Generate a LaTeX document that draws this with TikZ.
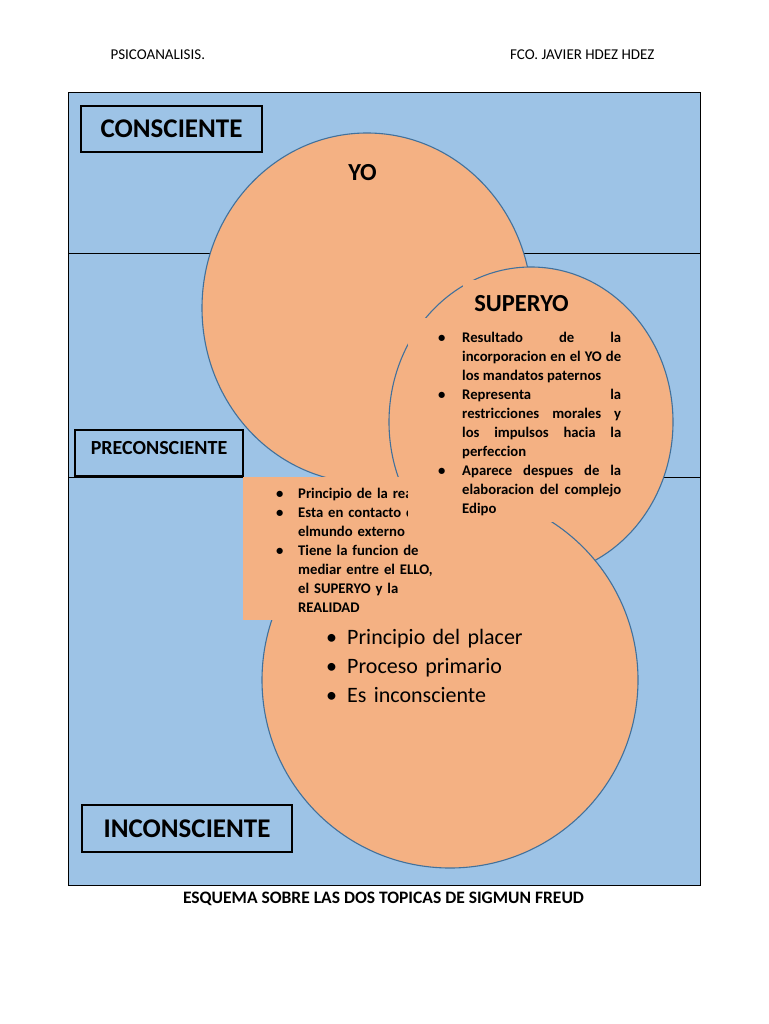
\documentclass[tikz,border=0pt]{standalone}
\usepackage{fontspec}
\setmainfont{Carlito}
\usetikzlibrary{shapes.geometric}

\definecolor{zoneblue}{HTML}{9DC3E6}
\definecolor{psyorange}{HTML}{F4B183}
\definecolor{rimblue}{HTML}{41719C}

\newcommand{\fsz}[2]{\fontsize{#1}{#2}\selectfont}
\newcommand{\bul}{\par\noindent\hspace*{-\leftskip}\makebox[\leftskip][l]{\textbullet}\strut\ignorespaces}

\begin{document}
\begin{tikzpicture}[x=1pt, y=-1pt,
  tag/.style={draw=black, line width=1.1, fill=zoneblue, inner sep=0, font=\fsz{27}{32}\bfseries},
  blob/.style={ellipse, draw=rimblue, line width=1.1, fill=psyorange, inner sep=0},
  list/.style={anchor=north west, inner sep=0}]

  % Page
  \fill[white] (0,0) rectangle (768,1024);
  \useasboundingbox (0,0) rectangle (768,1024);

  % Header
  \node[anchor=base west, font=\fsz{15}{18}] (psico) at (107,60) {PSICOANALISIS.};
  \node[anchor=base east, font=\fsz{15}{18}] (autor) at (658,60) {FCO. JAVIER HDEZ HDEZ};

  % Zones
  \draw[line width=1, fill=zoneblue] (68,93) rectangle (700,885);
  \draw[line width=1] (68,253) -- (700,253);
  \draw[line width=1] (68,477) -- (700,477);

  \node[tag, minimum width=181, minimum height=46] (consc) at (171.5,129) {CONSCIENTE};
  \node[tag, minimum width=168, minimum height=46, font=\fsz{20}{24}\bfseries, text depth=10.6] (precon) at (159,453) {PRECONSCIENTE};
  \node[tag, minimum width=210, minimum height=47] (incon) at (187,828.5) {INCONSCIENTE};

  % YO, SUPERYO, ELLO
  \node[blob, minimum width=330, minimum height=350] (yo) at (367,308) {};
  \node[blob, minimum width=284, minimum height=310] (superyo) at (531,422) {};
  \node[blob, minimum size=376] (ello) at (450,680) {};

  % YO text box
  \fill[psyorange] (243,477) rectangle (450,620);
  \node[list, text width=200, align=left, font=\fsz{14.7}{19}\bfseries] (yolist) at (276,479.5) {\leftskip=22pt
    \bul Principio de la realidad
    \bul Esta en contacto con\\ elmundo externo
    \bul Tiene la funcion de\\ mediar entre el ELLO,\\ el SUPERYO y la\\ REALIDAD\par};

  % SUPERYO text box
  \fill[psyorange] (408,318) rectangle (630,522);
  \node[anchor=base, fill=psyorange, inner xsep=11, inner ysep=14.5, font=\fsz{24.5}{29}\bfseries] (supertitle) at (521.5,311) {SUPERYO};
  \node[list, text width=183, align=justify, font=\fsz{14.7}{19}\bfseries] (superlist) at (438,323.5) {\leftskip=24pt\hyphenpenalty=10000
    \bul Resultado de la\linebreak incorporacion en el YO de\linebreak los mandatos paternos
    \bul Representa la\linebreak restricciones morales y\linebreak los impulsos hacia la\linebreak perfeccion
    \bul Aparece despues de la\linebreak elaboracion del complejo\linebreak Edipo\par};

  % ELLO text
  \node[list, text width=250, align=left, font=\fsz{22}{29}] (ellolist) at (326,615) {\leftskip=21pt
    \bul Principio del placer
    \bul Proceso primario
    \bul Es inconsciente\par};

  \node[anchor=base, font=\fsz{24.5}{29}\bfseries] (yotitle) at (362.5,181) {YO};

  % Caption
  \node[anchor=base, font=\fsz{17.5}{21}\bfseries] (caption) at (383.5,903) {ESQUEMA SOBRE LAS DOS TOPICAS DE SIGMUN FREUD};

\end{tikzpicture}
\end{document}
